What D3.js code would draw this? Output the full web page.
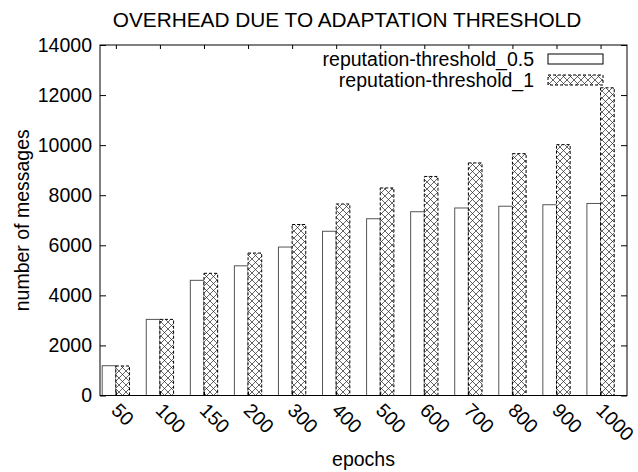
<!DOCTYPE html>
<html>
<head>
<meta charset="utf-8">
<script src="https://d3js.org/d3.v7.min.js"></script>
<style>
    body { margin: 0; background: #fff; }
    text { font-family: "Liberation Sans", Arial, Helvetica, sans-serif; fill: #000; }
</style>
</head>
<body>
<script>
//SVG dimension variables
var w = 638, h = 472;

//chart data
var epochs = ["50", "100", "150", "200", "300", "400", "500", "600", "700", "800", "900", "1000"];
var threshold05 = [1190, 3040, 4600, 5180, 5930, 6560, 7060, 7340, 7490, 7560, 7620, 7670];
var threshold1 = [1180, 3040, 4880, 5690, 6830, 7650, 8290, 8750, 9290, 9660, 10020, 12290];
var seriesNames = ["reputation-threshold_0.5", "reputation-threshold_1"];
var yTicks = [0, 2000, 4000, 6000, 8000, 10000, 12000, 14000];

//plot frame (window.top is taken, so use plot* names)
var plotLeft = 100, plotRight = 627, plotTop = 45, plotBottom = 395.5;

window.onload = function(){

    var svg = d3.select("body")
        .append("svg")
        .attr("width", w)
        .attr("height", h);

    //crosshatch fill pattern for the second series
    var defs = svg.append("defs");
    var pat = defs.append("pattern")
        .attr("id", "cross")
        .attr("patternUnits", "userSpaceOnUse")
        .attr("width", 7)
        .attr("height", 7);
    pat.append("rect")
        .attr("width", 7)
        .attr("height", 7)
        .attr("fill", "#fff");
    pat.append("path")
        .attr("d", "M0,0L7,7M7,0L0,7")
        .attr("stroke", "#222")
        .attr("stroke-width", 0.7);

    //x is the index of the epoch group, y is number of messages
    var x = d3.scaleLinear()
        .domain([-0.36, 11.6])
        .range([plotLeft, plotRight]);

    var y = d3.scaleLinear()
        .domain([0, 14000])
        .range([plotBottom, plotTop]);

    var bw = x(0.31) - x(0); //width of one bar

    //first series - plain white bars left of the tick
    svg.selectAll(".bar05")
        .data(threshold05)
        .enter()
        .append("rect")
        .attr("class", "bar05")
        .attr("x", function(d, i){ return x(i) - bw; })
        .attr("y", function(d){ return y(d); })
        .attr("width", bw)
        .attr("height", function(d){ return y(0) - y(d); })
        .attr("fill", "#fff")
        .attr("stroke", "#555")
        .attr("stroke-width", 1);

    //second series - crosshatch bars with dashed border right of the tick
    svg.selectAll(".bar1")
        .data(threshold1)
        .enter()
        .append("rect")
        .attr("class", "bar1")
        .attr("x", function(d, i){ return x(i); })
        .attr("y", function(d){ return y(d); })
        .attr("width", bw)
        .attr("height", function(d){ return y(0) - y(d); })
        .attr("fill", "url(#cross)")
        .attr("stroke", "#000")
        .attr("stroke-width", 1)
        .attr("stroke-dasharray", "3,2");

    //y axis on the left, ticks pointing inward, no thousands comma
    var yAxis = d3.axisLeft(y)
        .tickValues(yTicks)
        .tickFormat(d3.format("d"))
        .tickSize(-6)
        .tickSizeOuter(0)
        .tickPadding(8);

    var ya = svg.append("g")
        .attr("class", "axis")
        .attr("transform", "translate(" + plotLeft + ",0)")
        .call(yAxis);
    ya.select(".domain").remove();
    ya.selectAll("text").style("font-size", "19.5px");

    //mirror ticks on the right
    var yAxisR = d3.axisRight(y)
        .tickValues(yTicks)
        .tickSize(-6)
        .tickSizeOuter(0)
        .tickFormat("");
    var yr = svg.append("g")
        .attr("transform", "translate(" + plotRight + ",0)")
        .call(yAxisR);
    yr.select(".domain").remove();

    //x axis at the bottom, labels rotated
    var xAxis = d3.axisBottom(x)
        .tickValues(d3.range(epochs.length))
        .tickFormat(function(i){ return epochs[i]; })
        .tickSize(-4)
        .tickSizeOuter(0);

    var xa = svg.append("g")
        .attr("transform", "translate(0," + plotBottom + ")")
        .call(xAxis);
    xa.select(".domain").remove();
    xa.selectAll("text")
        .attr("x", 0)
        .attr("y", 0)
        .attr("dy", 0)
        .attr("text-anchor", "start")
        .attr("transform", "translate(-6,16) rotate(45)")
        .style("font-size", "19.5px");

    //mirror ticks on top
    var xAxisT = d3.axisTop(x)
        .tickValues(d3.range(epochs.length))
        .tickSize(-4)
        .tickSizeOuter(0)
        .tickFormat("");
    var xt = svg.append("g")
        .attr("transform", "translate(0," + plotTop + ")")
        .call(xAxisT);
    xt.select(".domain").remove();

    svg.selectAll(".tick line").attr("stroke", "#000");

    //frame
    svg.append("rect")
        .attr("x", plotLeft)
        .attr("y", plotTop)
        .attr("width", plotRight - plotLeft)
        .attr("height", plotBottom - plotTop)
        .attr("fill", "none")
        .attr("stroke", "#000")
        .attr("stroke-width", 1);

    //title and axis labels
    svg.append("text")
        .attr("x", 347)
        .attr("y", 27)
        .attr("text-anchor", "middle")
        .style("font-size", "20.8px")
        .text("OVERHEAD DUE TO ADAPTATION THRESHOLD");

    svg.append("text")
        .attr("x", (plotLeft + plotRight) / 2)
        .attr("y", 466)
        .attr("text-anchor", "middle")
        .style("font-size", "19.5px")
        .text("epochs");

    svg.append("text")
        .attr("transform", "translate(29," + ((plotTop + plotBottom) / 2) + ") rotate(-90)")
        .attr("text-anchor", "middle")
        .style("font-size", "19.5px")
        .text("number of messages");

    //legend
    var legend = svg.selectAll(".legend")
        .data(seriesNames)
        .enter()
        .append("g")
        .attr("class", "legend")
        .attr("transform", function(d, i){ return "translate(0," + (59 + i * 21) + ")"; });

    legend.append("text")
        .attr("x", 534)
        .attr("y", 0)
        .attr("dy", "0.35em")
        .attr("text-anchor", "end")
        .style("font-size", "19.5px")
        .text(function(d){ return d; });

    legend.append("rect")
        .attr("x", 548)
        .attr("y", -5)
        .attr("width", 55)
        .attr("height", 10)
        .attr("fill", function(d, i){ return i === 0 ? "#fff" : "url(#cross)"; })
        .attr("stroke", "#000")
        .attr("stroke-dasharray", function(d, i){ return i === 0 ? null : "3,2"; });
};
</script>
</body>
</html>
